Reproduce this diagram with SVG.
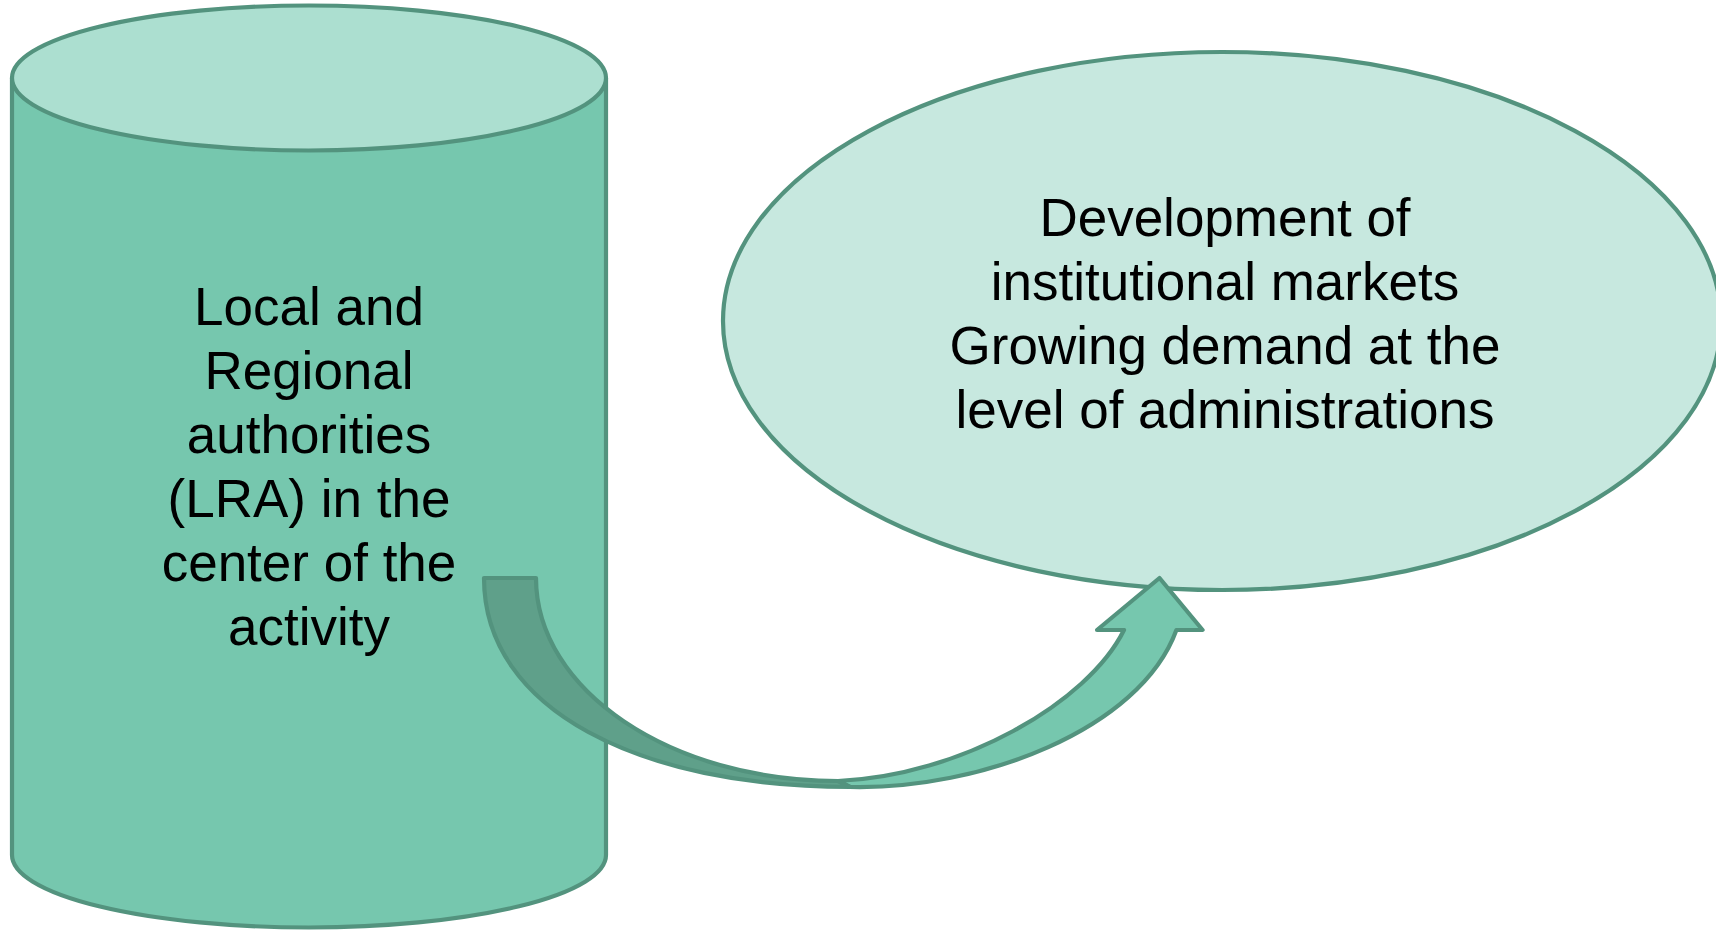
<svg xmlns="http://www.w3.org/2000/svg" width="1716" height="930" viewBox="0 0 1716 930">
<style>
.st{stroke:#53937e;stroke-width:4.2;stroke-linejoin:round}
.lbl{font-family:"Liberation Sans",Arial,sans-serif;font-size:53px;fill:#000;text-anchor:middle}
</style>
<rect width="1716" height="930" fill="#fff"/>
<g id="node-lra">
<path class="st" d="M12,78 L12,855 A297,72.5 0 0 0 606,855 L606,78 Z" fill="#76c7ae"/>
<ellipse class="st" cx="309" cy="78" rx="297" ry="72.5" fill="#acdfd0"/>
<text class="lbl"><tspan x="309" y="325">Local and</tspan><tspan x="309" y="389">Regional</tspan><tspan x="309" y="453">authorities</tspan><tspan x="309" y="517">(LRA) in the</tspan><tspan x="309" y="581">center of the</tspan><tspan x="309" y="645">activity</tspan></text>
</g>
<g id="node-markets">
<ellipse class="st" cx="1222" cy="321" rx="499" ry="269" fill="#c7e8df"/>
<text class="lbl"><tspan x="1225" y="236">Development of</tspan><tspan x="1225" y="300">institutional markets</tspan><tspan x="1225" y="364">Growing demand at the</tspan><tspan x="1225" y="428">level of administrations</tspan></text>
</g>
<g id="connectors">
<path class="st" fill="#76c7ae" d="M838,781 C960,776 1088,703 1124,630 L1097,630 L1159.5,578 L1202.6,630 L1176.4,630 C1140,730 980,790 850,787 Z"/>
<path class="st" fill="#5fa08a" d="M484,578 L536,578 C536,690 670,781 838,781 L850,787 C640,787 484,710 484,578 Z"/>
</g>
</svg>
